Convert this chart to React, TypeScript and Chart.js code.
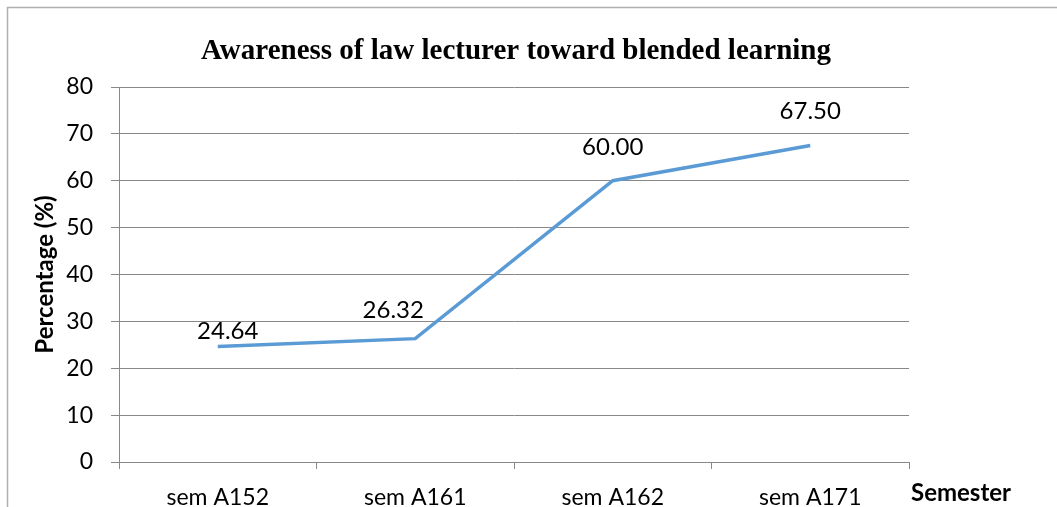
import React, { useEffect, useRef } from "react";
import { Chart, registerables } from "chart.js";

Chart.register(...registerables);

const categories = ["sem A152", "sem A161", "sem A162", "sem A171"];
const percentages = [24.64, 26.32, 60.0, 67.5];
const yTicks = [0, 10, 20, 30, 40, 50, 60, 70, 80];
const titleText = "Awareness of law lecturer toward blended learning";
const yTitle = "Percentage (%)";
const xTitle = "Semester";
// label offsets (style only) relative to each point
const labelDx = [10, -22, 0, 0];
const labelDy = [-15, -28, -33, -34];

const TICK_FONT = "Lato, 'Open Sans', sans-serif";

const decorPlugin = {
  id: "decor",
  beforeDraw(chart: any) {
    const ctx = chart.ctx;
    ctx.save();
    ctx.fillStyle = "#fff";
    ctx.fillRect(0, 0, chart.width, chart.height);
    ctx.strokeStyle = "#b0b0b0";
    ctx.lineWidth = 1.5;
    ctx.beginPath();
    ctx.moveTo(7.5, chart.height);
    ctx.lineTo(7.5, 7.5);
    ctx.lineTo(chart.width, 7.5);
    ctx.stroke();
    ctx.restore();
  },
  afterDraw(chart: any) {
    const ctx = chart.ctx;
    const area = chart.chartArea;
    ctx.save();
    // title
    ctx.fillStyle = "#000";
    ctx.font = "bold 29px 'Liberation Serif', 'Times New Roman', serif";
    ctx.textAlign = "center";
    ctx.textBaseline = "alphabetic";
    ctx.fillText(titleText, 516, 59);
    // x title
    ctx.font = `bold 24px ${TICK_FONT}`;
    ctx.textAlign = "left";
    ctx.fillText(xTitle, area.right + 2, 501);
    // data labels
    const meta = chart.getDatasetMeta(0);
    ctx.font = `24px ${TICK_FONT}`;
    ctx.textAlign = "center";
    ctx.textBaseline = "middle";
    meta.data.forEach((pt: any, i: number) => {
      ctx.fillText(percentages[i].toFixed(2), pt.x + labelDx[i], pt.y + labelDy[i]);
    });
    ctx.restore();
  },
};

export default function App() {
  const ref = useRef<HTMLCanvasElement>(null);
  useEffect(() => {
    document.body.style.margin = "0";
    const chart = new Chart(ref.current!, {
      type: "line",
      data: {
        labels: categories,
        datasets: [
          {
            data: percentages,
            borderColor: "#5B9BD5",
            borderWidth: 3.5,
            pointRadius: 0,
            tension: 0,
            fill: false,
          },
        ],
      },
      options: {
        animation: false,
        responsive: false,
        layout: { padding: { top: 87, right: 148, left: 0, bottom: 0 } },
        plugins: {
          legend: { display: false },
          title: { display: false },
          tooltip: { enabled: false },
        },
        scales: {
          x: {
            offset: true,
            grid: {
              offset: true,
              drawOnChartArea: false,
              drawTicks: true,
              tickLength: 7,
              color: "#888",
            },
            border: { display: true, color: "#888" },
            ticks: {
              color: "#000",
              font: { family: TICK_FONT, size: 23 },
              padding: 15,
              maxRotation: 0,
            },
            afterFit(scale: any) {
              scale.height = 45;
            },
          },
          y: {
            min: 0,
            max: 80,
            afterBuildTicks(scale: any) {
              scale.ticks = yTicks.map((v) => ({ value: v }));
            },
            grid: {
              color: "#888",
              tickLength: 8,
              lineWidth: 1,
            },
            border: { display: true, color: "#888" },
            ticks: {
              color: "#000",
              font: { family: TICK_FONT, size: 23 },
              padding: 18,
            },
            title: {
              display: true,
              text: yTitle,
              color: "#000",
              font: { family: TICK_FONT, size: 24, weight: "bold" },
              padding: { top: 31, bottom: 0 },
            },
            afterFit(scale: any) {
              scale.width = 119;
            },
          },
        },
      },
      plugins: [decorPlugin],
    });
    return () => chart.destroy();
  }, []);
  return <canvas ref={ref} width={1057} height={507} style={{ display: "block" }} />;
}
